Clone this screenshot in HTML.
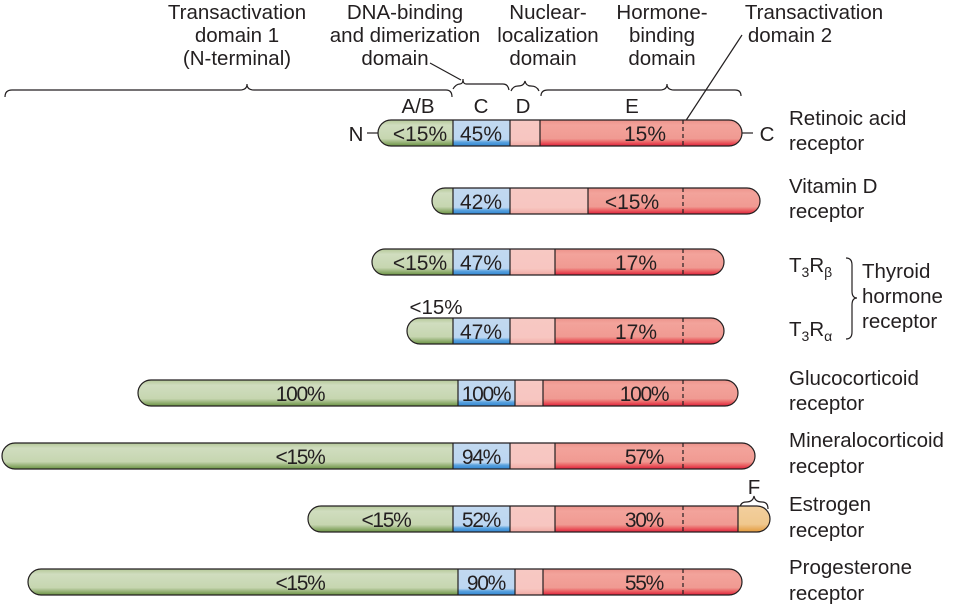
<!DOCTYPE html>
<html><head><meta charset="utf-8"><style>
html,body{margin:0;padding:0;background:#fff}
svg{display:block}
text{font-family:"Liberation Sans",sans-serif;fill:#231f20}
</style></head><body>
<svg width="954" height="605" viewBox="0 0 954 605" xmlns="http://www.w3.org/2000/svg">
<defs>
<linearGradient id="g" x1="0" y1="0" x2="0" y2="1"><stop offset="0" stop-color="#b4c898"/><stop offset="0.2" stop-color="#d0ddbf"/><stop offset="0.72" stop-color="#c6d6b0"/><stop offset="0.85" stop-color="#9bb57c"/><stop offset="1" stop-color="#6a9443"/></linearGradient>
<linearGradient id="b" x1="0" y1="0" x2="0" y2="1"><stop offset="0" stop-color="#c2d9f0"/><stop offset="0.75" stop-color="#bcd6f1"/><stop offset="0.85" stop-color="#5aa2de"/><stop offset="1" stop-color="#2f86d3"/></linearGradient>
<linearGradient id="d" x1="0" y1="0" x2="0" y2="1"><stop offset="0" stop-color="#f7c8c3"/><stop offset="0.75" stop-color="#f7c6c1"/><stop offset="1" stop-color="#f1aaa4"/></linearGradient>
<linearGradient id="e" x1="0" y1="0" x2="0" y2="1"><stop offset="0" stop-color="#ec938b"/><stop offset="0.2" stop-color="#f3a39b"/><stop offset="0.72" stop-color="#f09a92"/><stop offset="0.86" stop-color="#ea5f62"/><stop offset="1" stop-color="#e0213a"/></linearGradient>
<linearGradient id="f" x1="0" y1="0" x2="0" y2="1"><stop offset="0" stop-color="#f2cf9e"/><stop offset="0.7" stop-color="#f0c88e"/><stop offset="1" stop-color="#e39a3c"/></linearGradient>
<clipPath id="c1"><rect x="378" y="120" width="364" height="26" rx="13"/></clipPath>
<clipPath id="c2"><rect x="432" y="188" width="328" height="26" rx="13"/></clipPath>
<clipPath id="c3"><rect x="372" y="249" width="352" height="26" rx="13"/></clipPath>
<clipPath id="c4"><rect x="407" y="318" width="317" height="26" rx="13"/></clipPath>
<clipPath id="c5"><rect x="138" y="380" width="600" height="26" rx="13"/></clipPath>
<clipPath id="c6"><rect x="2" y="443" width="753" height="26" rx="13"/></clipPath>
<clipPath id="c7"><rect x="308" y="506" width="462" height="26" rx="13"/></clipPath>
<clipPath id="c8"><rect x="28" y="569" width="714" height="26" rx="13"/></clipPath>
</defs>

<!-- header text -->
<g font-size="20.5" text-anchor="middle">
<text x="237" y="19">Transactivation</text><text x="237" y="42">domain 1</text><text x="237" y="65">(N-terminal)</text>
<text x="405" y="19">DNA-binding</text><text x="405" y="42">and dimerization</text><text x="395" y="65">domain</text>
<text x="548" y="19">Nuclear-</text><text x="548" y="42">localization</text><text x="543" y="65">domain</text>
<text x="662" y="19">Hormone-</text><text x="662" y="42">binding</text><text x="662" y="65">domain</text>
<text x="814" y="19">Transactivation</text><text x="790" y="42">domain 2</text>
</g>
<g fill="none" stroke="#231f20" stroke-width="1.2">
<path d="M5,97 Q5,90 12,90 L240,90 Q247,90 247,84 Q247,90 254,90 L446,90 Q452,90 452,97"/>
<path d="M453,89 Q456,84 460,84 Q463,84 463,79 Q463,84 466,84 L503,84 Q508,84 509,90"/>
<path d="M511,91 Q513,86 518,86 Q524,86 525,81 Q526,86 531,86 Q537,86 539,91"/>
<path d="M541,96 Q541,90 548,90 L660,90 Q667,90 667,84 Q667,90 674,90 L735,90 Q741,90 741,96"/>
<path d="M430,63 L461,80"/>
<path d="M742,35 L683,125"/>
<path d="M367,133 L378,133"/><path d="M742,133 L753,133"/>
<path d="M740,509 Q740,502 746,502 Q753,502 754,496 Q755,502 762,502 Q768,502 768,509"/>
<path d="M846,258 Q852,258 852,265 L852,291 Q852,298 857,298 Q852,298 852,305 L852,332 Q852,339 846,339"/>
</g>
<g font-size="20.5" text-anchor="middle">
<text x="418" y="113">A/B</text><text x="481" y="113">C</text><text x="523" y="113">D</text><text x="632" y="113">E</text>
<text x="356" y="141">N</text><text x="767" y="141">C</text>
<text x="754" y="494">F</text>
<text x="436" y="314">&lt;15%</text>
</g>

<!-- bars -->
<g stroke="#231f20" stroke-width="1.2">
<g clip-path="url(#c1)" stroke="none"><rect x="378" y="120" width="75" height="26" fill="url(#g)"/><rect x="453" y="120" width="57" height="26" fill="url(#b)"/><rect x="510" y="120" width="30" height="26" fill="url(#d)"/><rect x="540" y="120" width="202" height="26" fill="url(#e)"/></g>
<path d="M453,120V146M510,120V146M540,120V146"/><path d="M683,120V146" stroke-dasharray="4,3"/>
<rect x="378" y="120" width="364" height="26" rx="13" fill="none"/>
<g clip-path="url(#c2)" stroke="none"><rect x="432" y="188" width="21" height="26" fill="url(#g)"/><rect x="453" y="188" width="57" height="26" fill="url(#b)"/><rect x="510" y="188" width="78" height="26" fill="url(#d)"/><rect x="588" y="188" width="172" height="26" fill="url(#e)"/></g>
<path d="M453,188V214M510,188V214M588,188V214"/><path d="M683,188V214" stroke-dasharray="4,3"/>
<rect x="432" y="188" width="328" height="26" rx="13" fill="none"/>
<g clip-path="url(#c3)" stroke="none"><rect x="372" y="249" width="81" height="26" fill="url(#g)"/><rect x="453" y="249" width="57" height="26" fill="url(#b)"/><rect x="510" y="249" width="45" height="26" fill="url(#d)"/><rect x="555" y="249" width="169" height="26" fill="url(#e)"/></g>
<path d="M453,249V275M510,249V275M555,249V275"/><path d="M683,249V275" stroke-dasharray="4,3"/>
<rect x="372" y="249" width="352" height="26" rx="13" fill="none"/>
<g clip-path="url(#c4)" stroke="none"><rect x="407" y="318" width="46" height="26" fill="url(#g)"/><rect x="453" y="318" width="57" height="26" fill="url(#b)"/><rect x="510" y="318" width="45" height="26" fill="url(#d)"/><rect x="555" y="318" width="169" height="26" fill="url(#e)"/></g>
<path d="M453,318V344M510,318V344M555,318V344"/><path d="M683,318V344" stroke-dasharray="4,3"/>
<rect x="407" y="318" width="317" height="26" rx="13" fill="none"/>
<g clip-path="url(#c5)" stroke="none"><rect x="138" y="380" width="320" height="26" fill="url(#g)"/><rect x="458" y="380" width="57" height="26" fill="url(#b)"/><rect x="515" y="380" width="28" height="26" fill="url(#d)"/><rect x="543" y="380" width="195" height="26" fill="url(#e)"/></g>
<path d="M458,380V406M515,380V406M543,380V406"/><path d="M683,380V406" stroke-dasharray="4,3"/>
<rect x="138" y="380" width="600" height="26" rx="13" fill="none"/>
<g clip-path="url(#c6)" stroke="none"><rect x="2" y="443" width="451" height="26" fill="url(#g)"/><rect x="453" y="443" width="57" height="26" fill="url(#b)"/><rect x="510" y="443" width="45" height="26" fill="url(#d)"/><rect x="555" y="443" width="200" height="26" fill="url(#e)"/></g>
<path d="M453,443V469M510,443V469M555,443V469"/><path d="M683,443V469" stroke-dasharray="4,3"/>
<rect x="2" y="443" width="753" height="26" rx="13" fill="none"/>
<g clip-path="url(#c7)" stroke="none"><rect x="308" y="506" width="145" height="26" fill="url(#g)"/><rect x="453" y="506" width="57" height="26" fill="url(#b)"/><rect x="510" y="506" width="45" height="26" fill="url(#d)"/><rect x="555" y="506" width="183" height="26" fill="url(#e)"/><rect x="738" y="506" width="32" height="26" fill="url(#f)"/></g>
<path d="M453,506V532M510,506V532M555,506V532M738,506V532"/><path d="M683,506V532" stroke-dasharray="4,3"/>
<rect x="308" y="506" width="462" height="26" rx="13" fill="none"/>
<g clip-path="url(#c8)" stroke="none"><rect x="28" y="569" width="430" height="26" fill="url(#g)"/><rect x="458" y="569" width="57" height="26" fill="url(#b)"/><rect x="515" y="569" width="28" height="26" fill="url(#d)"/><rect x="543" y="569" width="199" height="26" fill="url(#e)"/></g>
<path d="M458,569V595M515,569V595M543,569V595"/><path d="M683,569V595" stroke-dasharray="4,3"/>
<rect x="28" y="569" width="714" height="26" rx="13" fill="none"/>
</g>

<!-- bar labels -->
<g font-size="21" text-anchor="middle">
<text x="420" y="141">&lt;15%</text><text x="481" y="141">45%</text><text x="645" y="141">15%</text>
<text x="481" y="209">42%</text><text x="632" y="209">&lt;15%</text>
<text x="420" y="270">&lt;15%</text><text x="481" y="270">47%</text><text x="636" y="270">17%</text>
<text x="481" y="339">47%</text><text x="636" y="339">17%</text>
</g>
<g font-size="21" text-anchor="middle" letter-spacing="-1.3">
<text x="300" y="401">100%</text><text x="486" y="401">100%</text><text x="644" y="401">100%</text>
<text x="300" y="464">&lt;15%</text><text x="481" y="464">94%</text><text x="644" y="464">57%</text>
<text x="386" y="527">&lt;15%</text><text x="481" y="527">52%</text><text x="644" y="527">30%</text>
<text x="300" y="590">&lt;15%</text><text x="486" y="590">90%</text><text x="644" y="590">55%</text>
</g>

<!-- right labels -->
<g font-size="20.5">
<text x="789" y="125">Retinoic acid</text><text x="789" y="150">receptor</text>
<text x="789" y="193">Vitamin D</text><text x="789" y="218">receptor</text>
<text x="789" y="272">T<tspan font-size="14" dy="5">3</tspan><tspan dy="-5">R</tspan><tspan font-size="14" dy="5">β</tspan></text>
<text x="789" y="336">T<tspan font-size="14" dy="5">3</tspan><tspan dy="-5">R</tspan><tspan font-size="14" dy="5">α</tspan></text>
<text x="862" y="278">Thyroid</text><text x="862" y="303">hormone</text><text x="862" y="328">receptor</text>
<text x="789" y="385">Glucocorticoid</text><text x="789" y="410">receptor</text>
<text x="789" y="447">Mineralocorticoid</text><text x="789" y="473">receptor</text>
<text x="789" y="511">Estrogen</text><text x="789" y="537">receptor</text>
<text x="789" y="574">Progesterone</text><text x="789" y="600">receptor</text>
</g>
</svg>
</body></html>
